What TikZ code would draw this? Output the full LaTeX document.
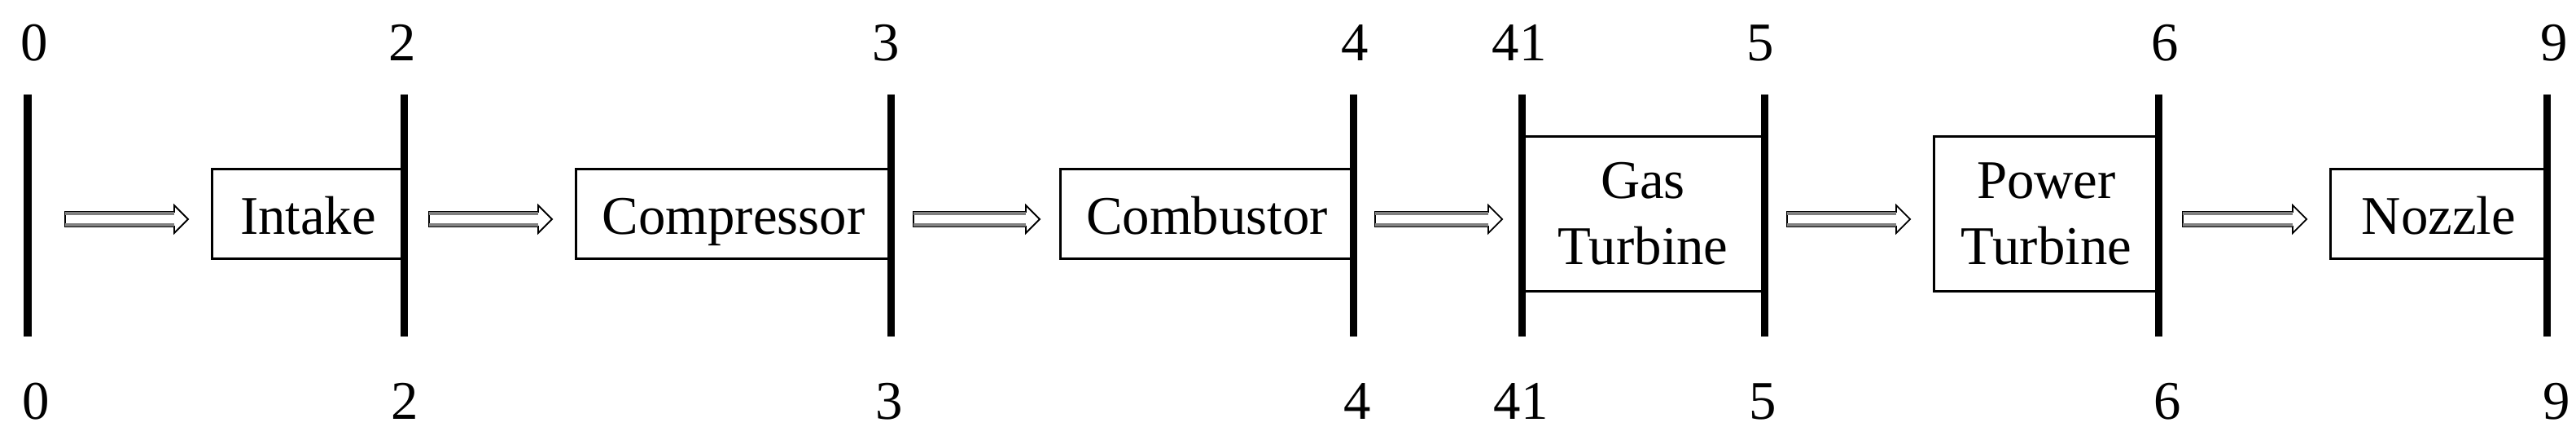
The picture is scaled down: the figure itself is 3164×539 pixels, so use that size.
\documentclass[tikz,border=0pt]{standalone}
\usepackage{fontspec}
\setmainfont{Liberation Serif}
\usetikzlibrary{calc}
\newcommand\flowarrow[2]{%
  \draw[arrowbody] ($(#1)+(0,9)$) -- ($(#2)+(-17,9)$) -- ($(#2)+(-17,17)$) -- (#2)
    -- ($(#2)+(-17,-17)$) -- ($(#2)+(-17,-9)$) -- ($(#1)+(0,-9)$) -- cycle;
  \draw[arrowedge] ($(#1)+(0,7)$) -- ($(#2)+(-17,7)$);
  \draw[arrowedge] ($(#1)+(0,-7)$) -- ($(#2)+(-17,-7)$);
}
\begin{document}
\begin{tikzpicture}[x=0.01cm,y=0.01cm,
  bar/.style={line width=0.09cm, line cap=butt},
  stage/.style={draw, line width=0.03cm, inner sep=0pt, outer sep=0pt, rectangle},
  smallstage/.style={stage, minimum height=1.09cm},
  bigstage/.style={stage, minimum height=1.89cm},
  txt/.style={font=\fontsize{19}{23}\selectfont, anchor=base, inner sep=0pt},
  lbl/.style={txt},
  arrowbody/.style={fill=white, draw=black, line width=0.018cm, line join=miter},
  arrowedge/.style={draw=black!50, line width=0.04cm, line cap=butt}
]
\useasboundingbox (0,0) rectangle (3164,539);
\fill[white] (0,0) rectangle (3164,539);

% stage boxes
\node[smallstage, minimum width=2.35cm] (intake) at (378.5,276.5) {};
\node[smallstage, minimum width=3.86cm] (comp) at (901,276.5) {};
\node[smallstage, minimum width=3.59cm] (comb) at (1482.5,276.5) {};
\node[bigstage, minimum width=2.98cm] (gt) at (2018,276.5) {};
\node[bigstage, minimum width=2.75cm] (pt) at (2513.5,276.5) {};
\node[smallstage, minimum width=2.65cm] (noz) at (2995.5,276.5) {};

% box texts
\node[txt] (tintake) at ($(intake.center)+(0,-24.5)$) {Intake};
\node[txt] (tcomp) at ($(comp.center)+(0,-24.5)$) {Compressor};
\node[txt] (tcomb) at ($(comb.center)+(0,-24.5)$) {Combustor};
\node[txt] (tgt1) at ($(gt.center)+(0,18.5)$) {Gas};
\node[txt] (tgt2) at ($(gt.center)+(0,-61.5)$) {Turbine};
\node[txt] (tpt1) at ($(pt.center)+(0,18.5)$) {Power};
\node[txt] (tpt2) at ($(pt.center)+(0,-61.5)$) {Turbine};
\node[txt] (tnoz) at ($(noz.center)+(0,-24.5)$) {Nozzle};

% station bars
\foreach \n/\x in {0/34, 2/496, 3/1094, 4/1662, 41/1869, 5/2167, 6/2651, 9/3128}{
  \coordinate (b\n t) at (\x,423);
  \coordinate (b\n b) at (\x,126);
  \draw[bar] (b\n t) -- (b\n b);
}

% station labels
\foreach \n/\xt/\xb in {0/42/44, 2/494/497, 3/1088/1092, 4/1664/1667, 41/1866/1868, 5/2162/2165, 6/2659/2662, 9/3137/3140}{
  \node[lbl] (l\n top) at (\xt,464) {\n};
  \node[lbl] (l\n bot) at (\xb,25) {\n};
}

% flow arrows
\coordinate (a1s) at (80,270);   \coordinate (a1e) at (231,270);
\coordinate (a2s) at (527,270);  \coordinate (a2e) at (678,270);
\coordinate (a3s) at (1122,270); \coordinate (a3e) at (1277,270);
\coordinate (a4s) at (1689,270); \coordinate (a4e) at (1845,270);
\coordinate (a5s) at (2195,270); \coordinate (a5e) at (2346,270);
\coordinate (a6s) at (2681,270); \coordinate (a6e) at (2833,270);
\flowarrow{a1s}{a1e}
\flowarrow{a2s}{a2e}
\flowarrow{a3s}{a3e}
\flowarrow{a4s}{a4e}
\flowarrow{a5s}{a5e}
\flowarrow{a6s}{a6e}
\end{tikzpicture}
\end{document}
